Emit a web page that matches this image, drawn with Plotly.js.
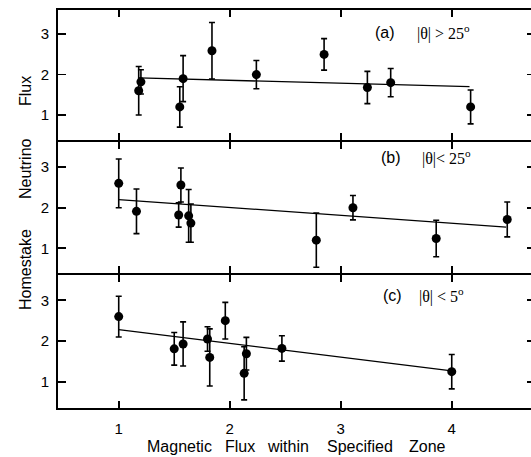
<!DOCTYPE html>
<html>
<head>
<meta charset="utf-8">
<script src="https://cdn.plot.ly/plotly-3.0.1.min.js"></script>
<style>
html,body{margin:0;padding:0;overflow:hidden;background:#fff;}
#chart{width:535px;height:457px;}
</style>
</head>
<body>
<div id="chart"></div>
<script>
// Panel (a) |θ| > 25°
var xA = [1.18, 1.20, 1.55, 1.58, 1.84, 2.24, 2.85, 3.24, 3.45, 4.17];
var yA = [1.60, 1.82, 1.20, 1.90, 2.59, 2.00, 2.50, 1.68, 1.80, 1.20];
var eA = [0.60, 0.30, 0.50, 0.57, 0.70, 0.35, 0.39, 0.40, 0.35, 0.42];
var fitXA = [1.18, 4.16];
var fitYA = [1.92, 1.70];

// Panel (b) |θ| < 25°
var xB = [1.00, 1.16, 1.54, 1.56, 1.63, 1.65, 2.78, 3.11, 3.86, 4.50];
var yB = [2.60, 1.91, 1.82, 2.56, 1.80, 1.62, 1.20, 2.00, 1.24, 1.71];
var eB = [0.60, 0.55, 0.30, 0.42, 0.65, 0.47, 0.67, 0.30, 0.45, 0.43];
var fitXB = [1.00, 4.49];
var fitYB = [2.20, 1.52];

// Panel (c) |θ| < 5°
var xC = [1.00, 1.50, 1.58, 1.80, 1.82, 1.96, 2.13, 2.15, 2.47, 4.00];
var yC = [2.60, 1.81, 1.93, 2.05, 1.60, 2.50, 1.21, 1.69, 1.82, 1.25];
var eC = [0.50, 0.40, 0.54, 0.30, 0.70, 0.45, 0.65, 0.40, 0.31, 0.42];
var fitXC = [1.00, 4.00];
var fitYC = [2.28, 1.27];

var xTicks = [1, 2, 3, 4];
var xTickText = ['1', '2', '3', '4'];
var yTicks = [1, 2, 3];
var yTickText = ['1', '2', '3'];

var panelLabels = ['(a)', '(b)', '(c)'];
var panelConds = ['|\u03b8| > 25<sup>o</sup>', '|\u03b8|< 25<sup>o</sup>', '|\u03b8| < 5<sup>o</sup>'];
var yTitleWords = ['Flux', 'Neutrino', 'Homestake'];
var xTitleWords = ['Magnetic', 'Flux', 'within', 'Specified', 'Zone'];

var W = 535, H = 457, L = 58, T = 10, B = 49;
var plotW = W - L, plotH = H - T - B;
function px2fx(px){ return (px - L) / plotW; }
function px2fy(py){ return (H - B - py) / plotH; }

function pts(x, y, e, xa, ya){
  return {x:x, y:y, xaxis:xa, yaxis:ya, type:'scatter', mode:'markers',
    marker:{color:'#000', size:9},
    error_y:{type:'data', array:e, visible:true, color:'#000', thickness:1.6, width:3},
    showlegend:false, hoverinfo:'none'};
}
function fit(x, y, xa, ya){
  return {x:x, y:y, xaxis:xa, yaxis:ya, type:'scatter', mode:'lines',
    line:{color:'#000', width:1.3}, showlegend:false, hoverinfo:'none'};
}

var data = [
  fit(fitXA, fitYA, 'x3', 'y3'), pts(xA, yA, eA, 'x3', 'y3'),
  fit(fitXB, fitYB, 'x2', 'y2'), pts(xB, yB, eB, 'x2', 'y2'),
  fit(fitXC, fitYC, 'x', 'y'), pts(xC, yC, eC, 'x', 'y')
];

var xRange = [0.453, 4.75];
var tickFont = {family:'Liberation Sans, Arial, sans-serif', size:15, color:'#000'};

function xax(anchor, showLabels){
  return {range:xRange, anchor:anchor, showline:true, linecolor:'#000', linewidth:2,
    mirror:'ticks', ticks:'inside', ticklen:7, tickwidth:1.6, tickcolor:'#000',
    tickvals:xTicks, ticktext:xTickText, showticklabels:showLabels,
    showgrid:false, zeroline:false, tickfont:tickFont, ticklabelstandoff:6};
}
function yax(anchor, dom, rng){
  return {range:rng, anchor:anchor, domain:dom, showline:true, linecolor:'#000', linewidth:2,
    mirror:'ticks', ticks:'inside', ticklen:8, tickwidth:1.6, tickcolor:'#000',
    tickvals:yTicks, ticktext:yTickText,
    showgrid:false, zeroline:false, tickfont:tickFont, ticklabelstandoff:4};
}

var annotations = [];
var labelY = [32, 158, 295];
var labelX = [385, 391, 392];
var condX = [415, 420, 417];
for (var i = 0; i < 3; i++) {
  annotations.push({xref:'paper', yref:'paper', x:px2fx(labelX[i]), y:px2fy(labelY[i]),
    text:panelLabels[i], showarrow:false, xanchor:'center', yanchor:'middle',
    font:{family:'Liberation Sans, Arial, sans-serif', size:16, color:'#000'}});
  annotations.push({xref:'paper', yref:'paper', x:px2fx(condX[i]), y:px2fy(labelY[i]),
    text:panelConds[i], showarrow:false, xanchor:'left', yanchor:'middle',
    font:{family:'Liberation Serif, Times New Roman, serif', size:16, color:'#000'}});
}
var yWordY = [91, 169, 270];
for (var j = 0; j < yTitleWords.length; j++) {
  annotations.push({xref:'paper', yref:'paper', x:px2fx(25), y:px2fy(yWordY[j]),
    text:yTitleWords[j], showarrow:false, textangle:-90, xanchor:'center', yanchor:'middle',
    font:{family:'Liberation Sans, Arial, sans-serif', size:16, color:'#000'}});
}
var xWordX = [179.5, 240, 288, 360, 427.5];
for (var k = 0; k < xTitleWords.length; k++) {
  annotations.push({xref:'paper', yref:'paper', x:px2fx(xWordX[k]), y:px2fy(446),
    text:xTitleWords[k], showarrow:false, xanchor:'center', yanchor:'middle',
    font:{family:'Liberation Sans, Arial, sans-serif', size:16, color:'#000'}});
}

var layout = {
  width:W, height:H,
  margin:{l:L, r:0, t:T, b:B, pad:0},
  paper_bgcolor:'#fff', plot_bgcolor:'#fff',
  showlegend:false,
  xaxis:xax('y', true),
  xaxis2:xax('y2', false),
  xaxis3:xax('y3', false),
  yaxis:yax('x', [0, px2fy(275)], [0.36, 3.62]),
  yaxis2:yax('x2', [px2fy(273), px2fy(142)], [0.39, 3.62]),
  yaxis3:yax('x3', [px2fy(140), 1], [0.38, 3.60]),
  annotations:annotations
};

Plotly.newPlot('chart', data, layout, {displayModeBar:false, staticPlot:true});
</script>
</body>
</html>
